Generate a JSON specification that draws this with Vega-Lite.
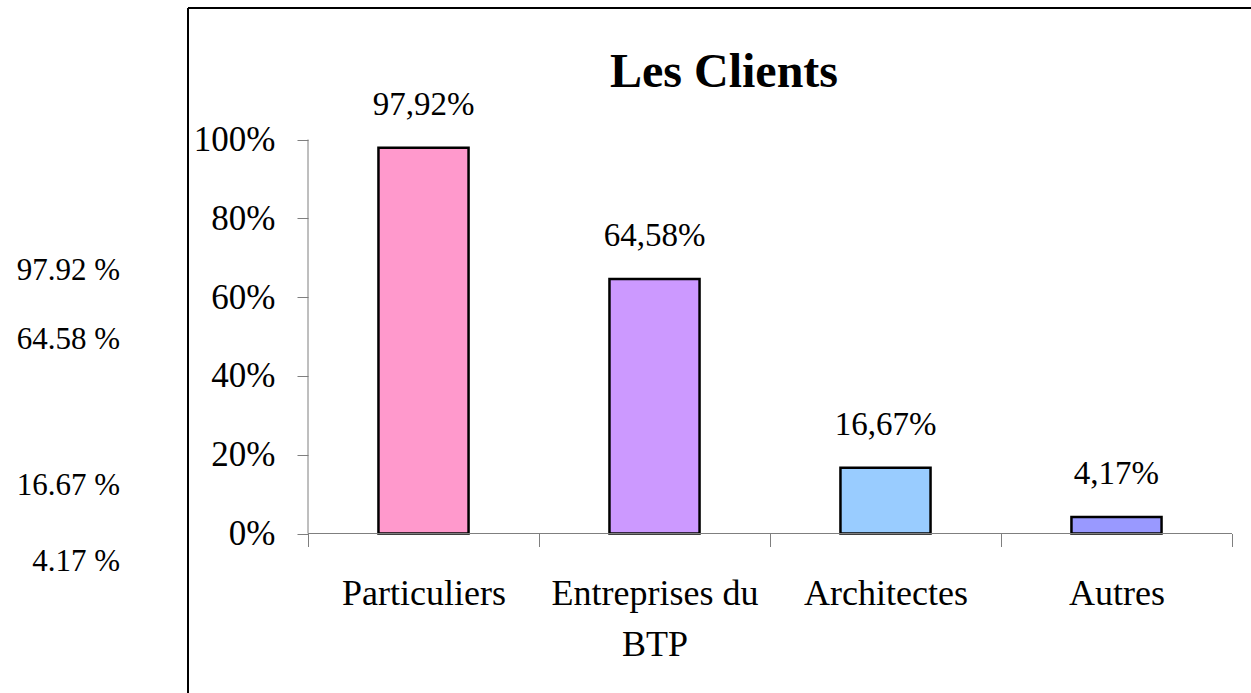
{
  "$schema": "https://vega.github.io/schema/vega-lite/v6.json",
  "width": 1063,
  "height": 685,
  "autosize": {"type": "none"},
  "padding": {"left": 188, "top": 8, "right": 0, "bottom": 0},
  "background": "white",
  "title": {
    "text": "Les Clients",
    "font": "Liberation Serif",
    "fontSize": 48,
    "fontWeight": "bold",
    "color": "black",
    "anchor": "middle",
    "baseline": "alphabetic",
    "offset": -128,
    "dx": 4.5
  },
  "config": {"view": {"stroke": null}},
  "data": {
    "values": [
      {"cat": "Particuliers", "value": 97.92},
      {"cat": "Entreprises du BTP", "value": 64.58},
      {"cat": "Architectes", "value": 16.67},
      {"cat": "Autres", "value": 4.17}
    ]
  },
  "transform": [
    {"calculate": "replace(format(datum.value, '.2f'), '.', ',') + '%'", "as": "lbl"},
    {"calculate": "format(datum.value, '.2f') + ' %'", "as": "side"}
  ],
  "layer": [
    {
      "data": {"values": [{}]},
      "mark": {"type": "rule", "color": "black", "strokeWidth": 2},
      "encoding": {"x": {"value": 0}, "y": {"value": 0}, "y2": {"value": "height"}}
    },
    {
      "data": {"values": [{}]},
      "mark": {"type": "rule", "color": "black", "strokeWidth": 2},
      "encoding": {"x": {"value": 0}, "x2": {"value": "width"}, "y": {"value": 0}}
    },
    {
      "layer": [
        {
          "mark": {"type": "bar", "width": {"band": 0.39}, "stroke": "black", "strokeWidth": 2.5},
          "encoding": {
            "x": {
              "field": "cat",
              "type": "nominal",
              "scale": {
                "domain": ["Particuliers", "Entreprises du BTP", "Architectes", "Autres"],
                "paddingInner": 0,
                "paddingOuter": 0.3009,
                "align": 0.8633
              },
              "axis": {
                "title": null,
                "orient": "bottom",
                "offset": -159.5,
                "domain": false,
                "tickBand": "extent",
                "tickSize": 13,
                "tickColor": "#7f7f7f",
                "labelFont": "Liberation Serif",
                "labelFontSize": 36,
                "labelColor": "black",
                "labelPadding": 30,
                "labelLimit": 0,
                "labelOverlap": false,
                "labelBound": false,
                "labelAngle": 0,
                "labelLineHeight": 51,
                "labelExpr": "datum.label == 'Entreprises du BTP' ? ['Entreprises du', 'BTP'] : datum.label"
              }
            },
            "y": {
              "field": "value",
              "type": "quantitative",
              "scale": {"domain": [-40.48, 133.38], "nice": false, "zero": false},
              "axis": {
                "title": null,
                "orient": "left",
                "offset": -120,
                "domain": false,
                "grid": false,
                "values": [0, 20, 40, 60, 80, 100],
                "labelExpr": "datum.value + '%'",
                "tickSize": 11,
                "tickColor": "#7f7f7f",
                "labelFont": "Liberation Serif",
                "labelFontSize": 35,
                "labelColor": "black",
                "labelPadding": 22,
                "labelBound": false
              }
            },
            "color": {
              "field": "cat",
              "type": "nominal",
              "scale": {
                "domain": ["Particuliers", "Entreprises du BTP", "Architectes", "Autres"],
                "range": ["#FF99CC", "#CC99FF", "#99CCFF", "#9999FF"]
              },
              "legend": null
            }
          }
        },
        {
          "data": {"values": [{}]},
          "mark": {"type": "rule", "color": "#7f7f7f", "strokeWidth": 1},
          "encoding": {
            "x": {"datum": "Particuliers", "type": "nominal", "bandPosition": 0},
            "y": {"datum": 0, "type": "quantitative"},
            "y2": {"datum": 100}
          }
        },
        {
          "data": {"values": [{}]},
          "mark": {"type": "rule", "color": "#7f7f7f", "strokeWidth": 1},
          "encoding": {
            "x": {"datum": "Particuliers", "type": "nominal", "bandPosition": 0},
            "x2": {"datum": "Autres", "bandPosition": 1},
            "y": {"datum": 0, "type": "quantitative"}
          }
        },
        {
          "mark": {"type": "text", "font": "Liberation Serif", "fontSize": 33, "color": "black", "align": "center", "baseline": "alphabetic", "dy": -33},
          "encoding": {
            "x": {"field": "cat", "type": "nominal"},
            "y": {"field": "value", "type": "quantitative"},
            "text": {"field": "lbl", "type": "nominal"}
          }
        }
      ]
    },
    {
      "mark": {"type": "text", "font": "Liberation Serif", "fontSize": 31, "color": "black", "align": "right", "baseline": "middle", "dx": -68},
      "encoding": {
        "x": {"value": 0},
        "y": {
          "field": "value",
          "type": "quantitative",
          "scale": {"type": "sqrt", "domain": [-2.256, 289.06], "zero": false, "nice": false},
          "axis": null
        },
        "text": {"field": "side", "type": "nominal"}
      }
    }
  ],
  "resolve": {"scale": {"y": "independent"}}
}
